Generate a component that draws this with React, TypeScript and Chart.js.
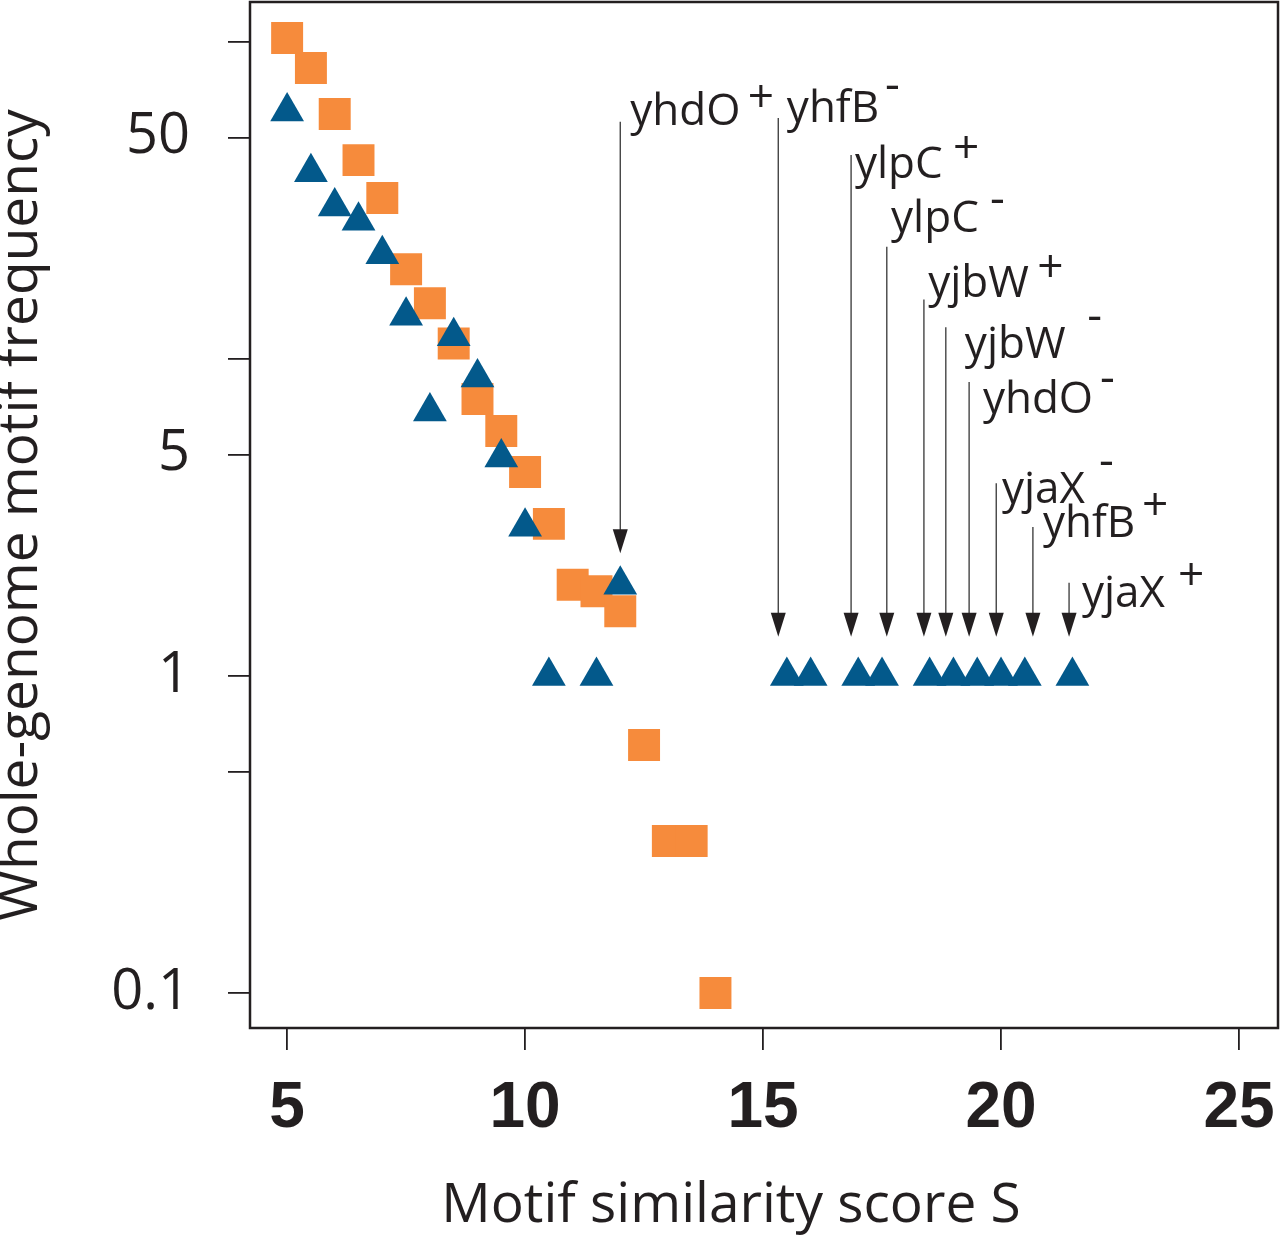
import { useEffect, useRef } from "react"
import { Chart, registerables } from "chart.js"

Chart.register(...registerables)

// orange squares
const squareScores = [5, 5.5, 6, 6.5, 7, 7.5, 8, 8.5, 9, 9.5, 10, 10.5, 11, 11.5, 12, 12.5, 13, 13.5, 14]
const squareFreq = [103, 82.8, 59.3, 42.4, 32.2, 19.2, 15.0, 11.2, 7.48, 5.93, 4.4, 3.02, 1.94, 1.85, 1.6, 0.606, 0.302, 0.302, 0.1]

// blue triangles
const triangleScores = [5, 5.5, 6, 6.5, 7, 7.5, 8, 8.5, 9, 9.5, 10, 10.5, 11.5, 12, 15.5, 16, 17, 17.5, 18.5, 19, 19.5, 20, 20.5, 21.5]
const triangleFreq = [60.4, 38.8, 30.3, 27.3, 21.4, 13.7, 6.83, 11.8, 8.74, 4.89, 2.96, 1, 1, 1.94, 1, 1, 1, 1, 1, 1, 1, 1, 1, 1]

const xTicks = [5, 10, 15, 20, 25]
const yTicks = [0.1, 0.5, 1, 5, 10, 50, 100]
const yTickLabels = ["0.1", "", "1", "5", "", "50", ""]

const xTitle = "Motif similarity score S"
const yTitle = "Whole-genome motif frequency"

// gene annotations (arrows + labels), in data units
const geneNames = ["yhdO", "yhfB", "ylpC", "ylpC", "yjbW", "yjbW", "yhdO", "yjaX", "yhfB", "yjaX"]
const strands = ["+", "-", "+", "-", "+", "-", "-", "-", "+", "+"]
const arrowX = [12.0, 15.32, 16.85, 17.6, 18.38, 18.84, 19.33, 19.9, 20.67, 21.43]
const arrowTop = [56, 57.6, 44, 22.6, 15.4, 12.6, 8.46, 4.06, 2.95, 1.97]
const arrowTip = [2.44, 1.33, 1.33, 1.33, 1.33, 1.33, 1.33, 1.33, 1.33, 1.33]
const labelX = [12.21, 15.5, 16.93, 17.69, 18.47, 19.24, 19.62, 20.02, 20.88, 21.7]
const labelY = [54.7, 55.9, 37.2, 25.2, 15.7, 10.07, 6.76, 3.51, 2.74, 1.65]
const signX = [14.68, 17.56, 18.99, 19.77, 20.76, 21.81, 22.08, 22.06, 22.96, 23.72]
const signY = [68, 72.1, 47.0, 31.7, 19.8, 13.5, 8.59, 4.7, 3.51, 2.11]

const INK = "#231f20"
const ORANGE = "#f68b3c"
const BLUE = "#03598b"
const SANS = "'Open Sans', 'Noto Sans', sans-serif"

const geneArrows = {
  id: "geneArrows",
  afterDraw(chart: Chart) {
    const { ctx, chartArea, scales } = chart
    const xs = scales.x
    const ys = scales.y
    ctx.save()

    // box around the plot
    ctx.strokeStyle = INK
    ctx.lineWidth = 2.5
    ctx.strokeRect(chartArea.left, chartArea.top, chartArea.right - chartArea.left, chartArea.bottom - chartArea.top)

    // x axis title, sits a little left of the plot centre in the original
    ctx.fillStyle = INK
    ctx.font = `55px ${SANS}`
    ctx.textAlign = "center"
    ctx.textBaseline = "alphabetic"
    ctx.fillText(xTitle, (chartArea.left + chartArea.right) / 2 - 33, xs.bottom - 14)

    geneNames.forEach((name, i) => {
      const x = xs.getPixelForValue(arrowX[i])
      const top = ys.getPixelForValue(arrowTop[i])
      const tip = ys.getPixelForValue(arrowTip[i])

      ctx.strokeStyle = "#444"
      ctx.lineWidth = 1.4
      ctx.beginPath()
      ctx.moveTo(x, top)
      ctx.lineTo(x, tip - 20)
      ctx.stroke()

      ctx.fillStyle = INK
      ctx.beginPath()
      ctx.moveTo(x, tip)
      ctx.lineTo(x - 7.5, tip - 24)
      ctx.lineTo(x + 7.5, tip - 24)
      ctx.closePath()
      ctx.fill()

      ctx.textAlign = "left"
      ctx.textBaseline = "alphabetic"
      ctx.font = `44px ${SANS}`
      ctx.fillText(name, xs.getPixelForValue(labelX[i]), ys.getPixelForValue(labelY[i]))

      const s = strands[i]
      ctx.font = `46px ${SANS}`
      const shift = (s === "+" ? 0.36 : 0.29) * 46
      ctx.fillText(s, xs.getPixelForValue(signX[i]), ys.getPixelForValue(signY[i]) + shift)
    })

    ctx.restore()
  },
}

export default function App() {
  const chartRef = useRef<HTMLCanvasElement>(null)
  const chartInstance = useRef<Chart | null>(null)

  useEffect(() => {
    if (!chartRef.current) return
    if (chartInstance.current) chartInstance.current.destroy()

    const ctx = chartRef.current.getContext("2d")
    if (!ctx) return

    chartInstance.current = new Chart(ctx, {
      type: "scatter",
      data: {
        datasets: [
          {
            label: "triangles",
            data: triangleScores.map((x, i) => ({ x, y: triangleFreq[i] })),
            pointStyle: "triangle",
            pointRadius: 19.5,
            pointHoverRadius: 19.5,
            pointBackgroundColor: BLUE,
            pointBorderWidth: 0,
          },
          {
            label: "squares",
            data: squareScores.map((x, i) => ({ x, y: squareFreq[i] })),
            pointStyle: "rect",
            pointRadius: 22.6,
            pointHoverRadius: 22.6,
            pointBackgroundColor: ORANGE,
            pointBorderWidth: 0,
          },
        ],
      },
      options: {
        responsive: false,
        animation: false,
        layout: { autoPadding: false, padding: { left: 0, top: 2, right: 2, bottom: 0 } },
        scales: {
          x: {
            type: "linear",
            min: 4.22,
            max: 25.82,
            afterBuildTicks: (axis: any) => {
              axis.ticks = xTicks.map((v) => ({ value: v }))
            },
            afterFit: (axis: any) => {
              axis.height = 208
              axis.paddingLeft = 0
              axis.paddingRight = 0
            },
            border: { display: false },
            grid: { drawOnChartArea: false, drawTicks: true, tickLength: 22, color: INK, lineWidth: 1.8 },
            ticks: {
              autoSkip: false,
              maxRotation: 0,
              padding: 27,
              color: INK,
              font: { family: "'Liberation Sans', sans-serif", size: 64, weight: "bold", lineHeight: 1 },
            },
            title: { display: false },
          },
          y: {
            type: "logarithmic",
            min: 0.0776,
            max: 133.7,
            afterBuildTicks: (axis: any) => {
              axis.ticks = yTicks.map((v) => ({ value: v }))
            },
            afterFit: (axis: any) => {
              axis.width = 250
              axis.paddingTop = 0
              axis.paddingBottom = 0
            },
            border: { display: false },
            grid: { drawOnChartArea: false, drawTicks: true, tickLength: 22, color: INK, lineWidth: 1.8 },
            ticks: {
              autoSkip: false,
              padding: 38,
              color: INK,
              font: { family: SANS, size: 56, lineHeight: 1 },
              callback: (value: any) => {
                const i = yTicks.indexOf(Number(value))
                return i >= 0 ? yTickLabels[i] : ""
              },
            },
            title: {
              display: true,
              text: yTitle,
              color: INK,
              font: { family: SANS, size: 55, lineHeight: 0.78 },
              padding: 0,
            },
          },
        },
        plugins: {
          legend: { display: false },
          tooltip: { enabled: false },
        },
      },
      plugins: [geneArrows],
    })

    return () => {
      if (chartInstance.current) {
        chartInstance.current.destroy()
        chartInstance.current = null
      }
    }
  }, [])

  return (
    <div style={{ position: "absolute", left: 0, top: 0, width: 1280, height: 1236, background: "#fff" }}>
      <canvas ref={chartRef} width={1280} height={1236}></canvas>
    </div>
  )
}
